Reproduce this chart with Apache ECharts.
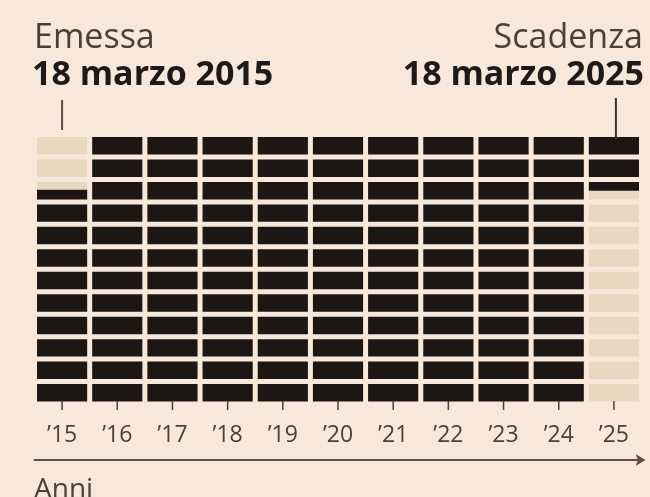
<!DOCTYPE html>
<html>
<head>
<meta charset="utf-8">
<script src="https://cdn.jsdelivr.net/npm/echarts@6/dist/echarts.min.js"></script>
<style>
  html, body { margin: 0; padding: 0; background: #f9e8da; }
  #chart { width: 650px; height: 497px; }
</style>
</head>
<body>
<div id="chart"></div>
<script>
// anni sull'asse x
var years = ['\u201915', '\u201916', '\u201917', '\u201918', '\u201919', '\u201920', '\u201921', '\u201922', '\u201923', '\u201924', '\u201925'];
// mesi coperti per anno (0 = inizio gennaio, 12 = fine dicembre)
var coverStart = [2.45, 0, 0, 0, 0, 0, 0, 0, 0, 0, 0];
var coverEnd = [12, 12, 12, 12, 12, 12, 12, 12, 12, 12, 2.5];
var months = [0, 1, 2, 3, 4, 5, 6, 7, 8, 9, 10, 11];

var dark = '#1c1614';
var light = '#e8d7c1';
var textCol = '#4a403a';
var font = '"Open Sans", "Noto Sans", sans-serif';

var cells = [];
for (var i = 0; i < years.length; i++) {
    for (var j = 0; j < months.length; j++) {
        cells.push([i, months[j]]);
    }
}

function renderCell(params, api) {
    var yi = api.value(0);
    var m = api.value(1);
    var p0 = api.coord([yi, m]);
    var p1 = api.coord([yi, m + 1]);
    var bw = api.size([1, 0])[0] - 5;
    var gap = 5;
    var top = p0[1] + gap / 2;
    var h = (p1[1] - p0[1]) - gap;
    var x = p0[0] - bw / 2;
    var lo = Math.min(Math.max(coverStart[yi] - m, 0), 1);
    var hi = Math.min(Math.max(coverEnd[yi] - m, 0), 1);
    var children = [];
    if (lo > 0 || hi < 1) {
        children.push({ type: 'rect', shape: { x: x, y: top, width: bw, height: h }, style: { fill: light } });
    }
    if (hi > lo) {
        children.push({ type: 'rect', shape: { x: x, y: top + lo * h, width: bw, height: (hi - lo) * h }, style: { fill: dark } });
    }
    // tacca sotto l'ultima riga
    if (m === months[months.length - 1]) {
        children.push({ type: 'line', shape: { x1: p0[0], y1: p1[1] - 3, x2: p0[0], y2: p1[1] + 6 }, style: { stroke: textCol, lineWidth: 1.5 } });
    }
    return { type: 'group', children: children };
}

var myChart = echarts.init(document.getElementById('chart'));
var option = {
    backgroundColor: '#f9e8da',
    animation: false,
    grid: { left: 34.5, right: 8.5, top: 134.5, bottom: 93 },
    xAxis: [
        {
            type: 'category',
            data: years,
            position: 'bottom',
            axisLine: { show: false, onZero: false },
            axisTick: { show: false },
            axisLabel: { fontSize: 23, color: textCol, margin: 20, fontFamily: font }
        },
        {
            type: 'value',
            position: 'bottom',
            offset: 56,
            min: 0,
            max: 1,
            axisLine: { show: true, onZero: false, symbol: ['none', 'arrow'], symbolSize: [9, 10], symbolOffset: [0, 4], lineStyle: { color: '#5a504a', width: 2 } },
            axisTick: { show: false },
            axisLabel: { show: false },
            splitLine: { show: false }
        }
    ],
    yAxis: { type: 'value', min: 0, max: 12, inverse: true, show: false },
    series: [{
        type: 'custom',
        renderItem: renderCell,
        xAxisIndex: 0,
        clip: false,
        data: cells
    }],
    graphic: [
        { id: 't1', type: 'text', left: 34, top: 21, style: { text: 'Emessa', fontSize: 34, fill: textCol, fontFamily: font } },
        { id: 't2', type: 'text', left: 32, top: 58, style: { text: '18 marzo 2015', fontSize: 34, fontWeight: 'bold', fill: '#1f1a18', fontFamily: font } },
        { id: 't3', type: 'text', right: 7, top: 21, style: { text: 'Scadenza', fontSize: 34, fill: textCol, fontFamily: font } },
        { id: 't4', type: 'text', right: 6, top: 58, style: { text: '18 marzo 2025', fontSize: 34, fontWeight: 'bold', fill: '#1f1a18', fontFamily: font } },
        { id: 't5', type: 'text', left: 34, top: 476, style: { text: 'Anni', fontSize: 28, fill: textCol, fontFamily: font } }
    ]
};
myChart.setOption(option);

// linee di riferimento: emissione e scadenza
var pStart = myChart.convertToPixel({ xAxisIndex: 0 }, years[0]);
var pEnd = myChart.convertToPixel({ xAxisIndex: 0 }, years[years.length - 1]);
myChart.setOption({
    graphic: [
        { id: 'l1', type: 'line', shape: { x1: pStart, y1: 100, x2: pStart, y2: 130 }, style: { stroke: '#5a504a', lineWidth: 2 } },
        { id: 'l2', type: 'line', shape: { x1: pEnd + 2, y1: 98, x2: pEnd + 2, y2: 140 }, style: { stroke: '#3a302c', lineWidth: 2 }, z: 10 }
    ]
});
</script>
</body>
</html>
